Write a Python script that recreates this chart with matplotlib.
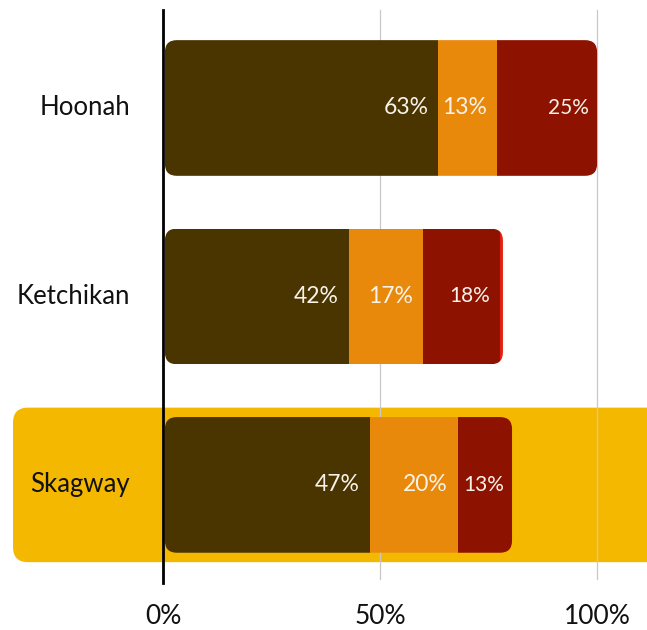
import numpy as np
import matplotlib.pyplot as plt
from matplotlib.patches import FancyBboxPatch

plt.rcParams['font.family'] = ['Lato', 'DejaVu Sans']

towns = ['Hoonah', 'Ketchikan', 'Skagway']
# segment widths (percent of total)
dark = [63.0, 42.4, 47.2]
orange = [13.6, 17.0, 20.3]
red = [23.4, 17.8, 12.9]
other = [0.0, 1.1, 0.0]
# printed labels
dark_lbl = ['63%', '42%', '47%']
orange_lbl = ['13%', '17%', '20%']
red_lbl = ['25%', '18%', '13%']
highlight = 'Skagway'

colors = ['#4a3500', '#e8890c', '#8e1200', '#e3200f']

fig = plt.figure(figsize=(6.47, 6.30), dpi=100)
ax = fig.add_axes([0, 0, 1, 1])
ax.set_xlim(-37.6, 111.5)
ax.set_ylim(2.77, -0.573)
ax.axis('off')

# pixel scale, used for rounded corners and label padding
px_x = 647 / (111.5 + 37.6)
px_y = 630 / (2.77 + 0.573)
aspect = px_x / px_y

y = np.arange(len(towns))
bar_h = 0.72

# highlight band behind the selected town
hi = towns.index(highlight)
band = FancyBboxPatch((-34.6, hi - 0.41), 200, 0.82,
                      boxstyle='round,pad=0,rounding_size=%f' % (15 / px_x),
                      mutation_aspect=aspect, fc='#f5b800', ec='none', zorder=0)
ax.add_patch(band)

# grid lines and zero axis
for gx in [50, 100]:
    ax.plot([gx, gx], [-0.52, 2.5], color='#c8c8c8', lw=0.9, zorder=1)
ax.plot([0, 0], [-0.52, 2.52], color='black', lw=2, zorder=2)

segments = [dark, orange, red, other]
labels = [dark_lbl, orange_lbl, red_lbl]
for i, town in enumerate(towns):
    total = sum(s[i] for s in segments)
    clip = FancyBboxPatch((0.4, y[i] - bar_h / 2), total - 0.4, bar_h,
                          boxstyle='round,pad=0,rounding_size=%f' % (12 / px_x),
                          mutation_aspect=aspect, transform=ax.transData)
    left = 0.4
    for k, seg in enumerate(segments):
        if seg[i] <= 0:
            continue
        b = ax.barh(y[i], seg[i], left=left, height=bar_h, color=colors[k], zorder=3)
        for p in b:
            p.set_clip_path(clip)
        if k < 3:
            ax.text(left + seg[i] - 10 / px_x, y[i], labels[k][i], ha='right', va='center',
                    color='#f7f2ea', fontsize=16.5 if k < 2 else 15, zorder=4)
        left += seg[i]
    ax.text(-7.6, y[i], town, ha='right', va='center', fontsize=18.5, color='#111111')

for tx in [0, 50, 100]:
    ax.text(tx, 2.7, '%d%%' % tx, ha='center', va='center', fontsize=19, color='#111111')

fig.savefig('out.png', dpi=100)
